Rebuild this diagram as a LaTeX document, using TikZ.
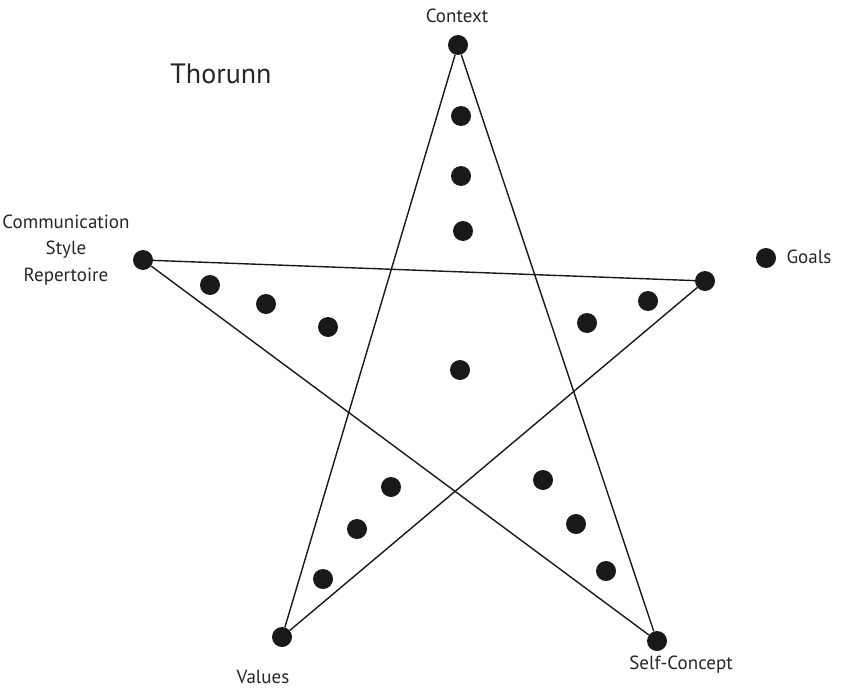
\documentclass[tikz,border=0pt]{standalone}
\usepackage{fontspec}
\setmainfont{PT Sans}
\begin{document}
\begin{tikzpicture}[x=1pt,y=-1pt,
  vtx/.style={circle,fill=black!90,inner sep=0pt,minimum size=20pt},
  dotm/.style={circle,fill=black!90,inner sep=0pt,minimum size=20pt},
  lbl/.style={font=\fontsize{19}{26.5}\selectfont,align=center,text=black!85},
  edge/.style={draw=black!90,line width=1.4pt}]
\useasboundingbox (0,0) rectangle (848,690);
\node[vtx] (ctx) at (458,45) {};
\node[vtx] (com) at (143,260) {};
\node[vtx] (gol) at (705,281) {};
\node[vtx] (val) at (282,637) {};
\node[vtx] (slf) at (657,641) {};
\draw[edge] (ctx) -- (val);
\draw[edge] (ctx) -- (slf);
\draw[edge] (com) -- (gol);
\draw[edge] (com) -- (slf);
\draw[edge] (gol) -- (val);
\node[lbl] (tctx) at (457,16) {Context};
\node[lbl] (tcom) at (66,250) {Communication\\Style\\Repertoire};
\node[lbl] (tval) at (263,677) {Values};
\node[lbl] (tslf) at (681,665) {Self-Concept};
\node[lbl,anchor=west] (tgol) at (783,257) {Goals};
\node[dotm] (g0) at (766,258) {};
\node[font=\fontsize{28}{32}\selectfont,text=black!85] (title) at (221,74) {Thorunn};
\node[dotm] (d1) at (461,116) {};
\node[dotm] (d2) at (461,176) {};
\node[dotm] (d3) at (463,231) {};
\node[dotm] (d4) at (210,285) {};
\node[dotm] (d5) at (266,304) {};
\node[dotm] (d6) at (328,327) {};
\node[dotm] (d7) at (587,323) {};
\node[dotm] (d8) at (648,301) {};
\node[dotm] (d9) at (460,370) {};
\node[dotm] (d10) at (391,487) {};
\node[dotm] (d11) at (357,529) {};
\node[dotm] (d12) at (323,579) {};
\node[dotm] (d13) at (543,480) {};
\node[dotm] (d14) at (576,524) {};
\node[dotm] (d15) at (606,571) {};
\end{tikzpicture}
\end{document}
